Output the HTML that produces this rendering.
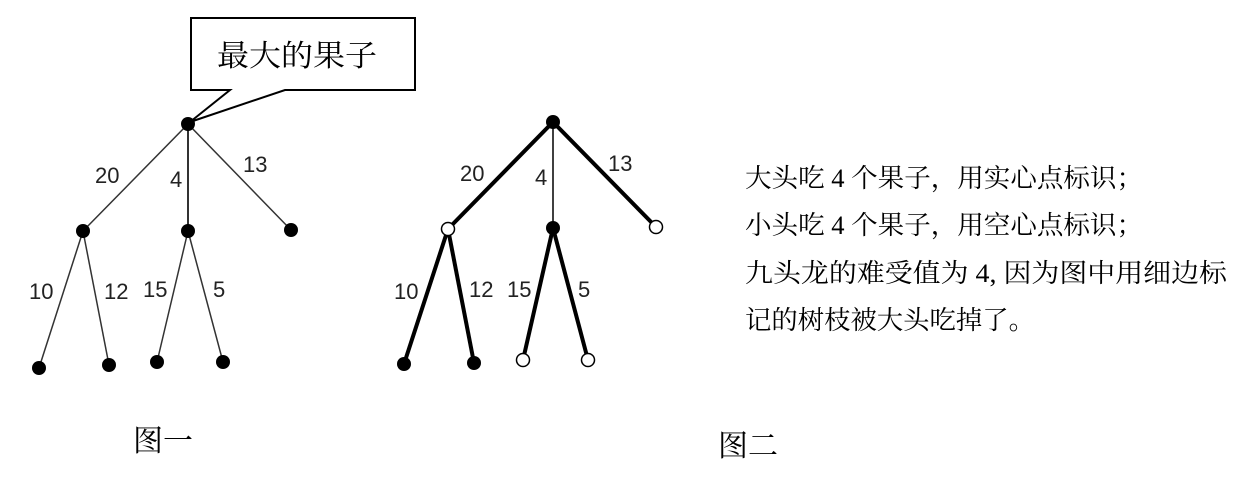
<!DOCTYPE html>
<html><head><meta charset="utf-8"><style>
html,body{margin:0;padding:0;background:#fff;}
svg{display:block;}
.l{font-family:"Liberation Sans",sans-serif;font-size:22px;fill:#222;}
.c{font-family:"Liberation Serif","Noto Serif CJK SC",serif;fill:#000;}
</style></head><body>
<svg width="1237" height="487" viewBox="0 0 1237 487" xmlns="http://www.w3.org/2000/svg">
<rect width="1237" height="487" fill="#fff"/>
<path d="M191,18 H415 V90 H285 L190,122 L230,90 H191 Z" fill="#fff" stroke="#000" stroke-width="2"/>
<text x="217" y="66" class="c" font-size="30" textLength="160" lengthAdjust="spacingAndGlyphs">最大的果子</text>
<g stroke="#333" stroke-width="1.5">
<line x1="188" y1="124" x2="83" y2="231"/>
<line x1="188" y1="124" x2="188" y2="231" stroke-width="2"/>
<line x1="188" y1="124" x2="291" y2="230"/>
<line x1="83" y1="231" x2="39" y2="368"/>
<line x1="83" y1="231" x2="109" y2="365"/>
<line x1="188" y1="231" x2="157" y2="362"/>
<line x1="188" y1="231" x2="223" y2="362"/>
</g>
<g fill="#000">
<circle cx="188" cy="124" r="7"/><circle cx="83" cy="231" r="7"/><circle cx="188" cy="231" r="7"/><circle cx="291" cy="230" r="7"/>
<circle cx="39" cy="368" r="7"/><circle cx="109" cy="365" r="7"/><circle cx="157" cy="362" r="7"/><circle cx="223" cy="362" r="7"/>
</g>
<g class="l">
<text x="95" y="183">20</text><text x="170" y="187">4</text><text x="243" y="172">13</text>
<text x="29" y="299">10</text><text x="104" y="299">12</text><text x="143" y="297">15</text><text x="213" y="297">5</text>
</g>
<g stroke="#000" stroke-width="4">
<line x1="553" y1="122" x2="448" y2="229"/>
<line x1="553" y1="122" x2="553" y2="228" stroke-width="1.5"/>
<line x1="553" y1="122" x2="656" y2="227"/>
<line x1="448" y1="229" x2="404" y2="364"/>
<line x1="448" y1="229" x2="474" y2="363"/>
<line x1="553" y1="228" x2="523" y2="360"/>
<line x1="553" y1="228" x2="588" y2="360"/>
</g>
<g fill="#000">
<circle cx="553" cy="122" r="7"/><circle cx="553" cy="228" r="7"/><circle cx="404" cy="364" r="7"/><circle cx="474" cy="363" r="7"/>
</g>
<g fill="#fff" stroke="#000" stroke-width="1.5">
<circle cx="448" cy="229" r="6.5"/><circle cx="656" cy="227" r="6.5"/><circle cx="523" cy="360" r="6.5"/><circle cx="588" cy="360" r="6.5"/>
</g>
<g class="l">
<text x="460" y="181">20</text><text x="535" y="185">4</text><text x="608" y="171">13</text>
<text x="394" y="299">10</text><text x="469" y="297">12</text><text x="507" y="297">15</text><text x="578" y="297">5</text>
</g>
<g class="c" font-size="26">
<text x="745" y="187" textLength="398" lengthAdjust="spacingAndGlyphs">大头吃 4 个果子，用实心点标识；</text>
<text x="745" y="234" textLength="398" lengthAdjust="spacingAndGlyphs">小头吃 4 个果子，用空心点标识；</text>
<text x="745" y="282" textLength="482" lengthAdjust="spacingAndGlyphs">九头龙的难受值为 4, 因为图中用细边标</text>
<text x="745" y="329" textLength="290" lengthAdjust="spacingAndGlyphs">记的树枝被大头吃掉了。</text>
</g>
<text x="133" y="451" class="c" font-size="30">图一</text>
<text x="718" y="456" class="c" font-size="30">图二</text>
</svg>
</body></html>
